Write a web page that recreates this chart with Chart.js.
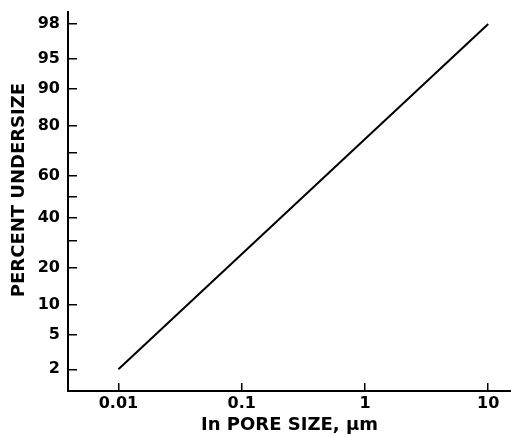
<!DOCTYPE html>
<html>
<head>
<meta charset="utf-8">
<script src="https://cdn.jsdelivr.net/npm/chart.js@4/dist/chart.umd.min.js"></script>
<style>
  html, body { margin: 0; padding: 0; background: #fff; }
  #wrap { position: relative; width: 511px; height: 436px; }
</style>
</head>
<body>
<div id="wrap"><canvas id="c" width="511" height="436"></canvas></div>
<script>
// ---- data ----
const poreSize = [0.01, 10];              // µm
const percentUndersize = [2, 98];         // %
const xTickValues = [0.01, 0.1, 1, 10];
const yTickPercents = [2, 5, 10, 20, 30, 40, 50, 60, 70, 80, 90, 95, 98];
const yLabeledPercents = [2, 5, 10, 20, 40, 60, 80, 90, 95, 98];
const xRange = [0.0039, 15.3];
const yRangePercent = [1.04, 98.6];
const xTitle = 'In PORE SIZE, \u03bcm';
const yTitle = 'PERCENT UNDERSIZE';

// probability (probit) transform: percent -> standard normal quantile
function probit(pct) {
  const p = pct / 100;
  const a = [-3.969683028665376e+01, 2.209460984245205e+02, -2.759285104469687e+02, 1.383577518672690e+02, -3.066479806614716e+01, 2.506628277459239e+00];
  const b = [-5.447609879822406e+01, 1.615858368580409e+02, -1.556989798598866e+02, 6.680131188771972e+01, -1.328068155288572e+01];
  const c = [-7.784894002430293e-03, -3.223964580411365e-01, -2.400758277161838e+00, -2.549732539343734e+00, 4.374664141464968e+00, 2.938163982698783e+00];
  const d = [7.784695709041462e-03, 3.224671290700398e-01, 2.445134137142996e+00, 3.754408661907416e+00];
  const pl = 0.02425, ph = 1 - pl;
  let q, r;
  if (p < pl) {
    q = Math.sqrt(-2 * Math.log(p));
    return (((((c[0]*q+c[1])*q+c[2])*q+c[3])*q+c[4])*q+c[5]) / ((((d[0]*q+d[1])*q+d[2])*q+d[3])*q+1);
  } else if (p <= ph) {
    q = p - 0.5; r = q*q;
    return (((((a[0]*r+a[1])*r+a[2])*r+a[3])*r+a[4])*r+a[5])*q / (((((b[0]*r+b[1])*r+b[2])*r+b[3])*r+b[4])*r+1);
  } else {
    q = Math.sqrt(-2 * Math.log(1 - p));
    return -(((((c[0]*q+c[1])*q+c[2])*q+c[3])*q+c[4])*q+c[5]) / ((((d[0]*q+d[1])*q+d[2])*q+d[3])*q+1);
  }
}

const points = poreSize.map((x, i) => ({ x: x, y: probit(percentUndersize[i]) }));

const yTitlePlugin = {
  id: 'yTitlePlugin',
  afterDraw(chart) {
    const ctx = chart.ctx;
    ctx.save();
    ctx.font = 'bold 18px "DejaVu Sans"';
    ctx.fillStyle = '#000';
    ctx.textAlign = 'center';
    ctx.textBaseline = 'middle';
    ctx.translate(19, 190);
    ctx.rotate(-Math.PI / 2);
    ctx.fillText(yTitle, 0, 0);
    ctx.restore();
  }
};

new Chart(document.getElementById('c'), {
  type: 'line',
  data: {
    datasets: [{
      data: points,
      borderColor: '#000',
      borderWidth: 2,
      pointRadius: 0,
      tension: 0,
      fill: false
    }]
  },
  options: {
    responsive: false,
    animation: false,
    layout: { padding: { top: 12, right: 0, left: 0, bottom: 0 } },
    plugins: { legend: { display: false }, tooltip: { enabled: false } },
    scales: {
      x: {
        type: 'logarithmic',
        position: 'bottom',
        min: xRange[0],
        max: xRange[1],
        afterBuildTicks(scale) { scale.ticks = xTickValues.map(v => ({ value: v })); },
        afterFit(scale) { scale.height = 45; scale.paddingLeft = 0; scale.paddingRight = 0; },
        ticks: {
          autoSkip: false,
          maxRotation: 0,
          padding: 11,
          color: '#000',
          font: { family: 'DejaVu Sans', weight: 'bold', size: 16 },
          callback: (v) => String(v)
        },
        grid: {
          display: true,
          drawOnChartArea: false,
          drawTicks: true,
          tickLength: -8,
          color: '#000',
          lineWidth: 1.5
        },
        border: { display: true, color: '#000', width: 2 },
        title: {
          display: true,
          text: xTitle,
          color: '#000',
          font: { family: 'DejaVu Sans', weight: 'bold', size: 18 },
          padding: { top: 0, bottom: 0 }
        }
      },
      y: {
        type: 'linear',
        position: 'left',
        min: probit(yRangePercent[0]),
        max: probit(yRangePercent[1]),
        afterBuildTicks(scale) { scale.ticks = yTickPercents.map(p => ({ value: probit(p) })); },
        afterFit(scale) { scale.width = 68; scale.paddingTop = 0; scale.paddingBottom = 0; },
        ticks: {
          autoSkip: false,
          padding: 17,
          color: '#000',
          font: { family: 'DejaVu Sans', weight: 'bold', size: 16 },
          callback: (v, i) => yLabeledPercents.includes(yTickPercents[i]) ? String(yTickPercents[i]) : ''
        },
        grid: {
          display: true,
          drawOnChartArea: false,
          drawTicks: true,
          tickLength: -9,
          color: '#000',
          lineWidth: 1.5
        },
        border: { display: true, color: '#000', width: 2 }
      }
    }
  },
  plugins: [yTitlePlugin]
});
</script>
</body>
</html>
